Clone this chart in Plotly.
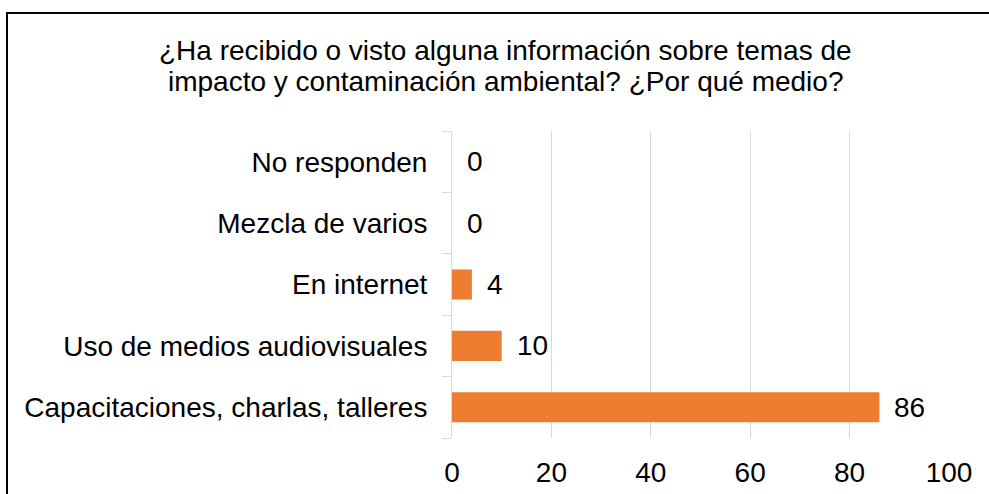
import plotly.graph_objects as go

categories = ["Capacitaciones, charlas, talleres", "Uso de medios audiovisuales",
              "En internet", "Mezcla de varios", "No responden"]
values = [86, 10, 4, 0, 0]
x_ticks = [0, 20, 40, 60, 80, 100]
title_lines = ["¿Ha recibido o visto alguna información sobre temas de",
               "impacto y contaminación ambiental? ¿Por qué medio?"]

W, H = 989, 494
L, R, T, B = 452, 40, 131, 56
pw, ph = W - L - R, H - T - B

def px_x(x):
    return (x - L) / pw

def px_y(y):
    return 1 - (y - T) / ph

FONT = "Liberation Sans, Arial, sans-serif"
FS = 28
ORANGE = "#ED7D31"
GRID = "#D9D9D9"

fig = go.Figure(go.Bar(
    x=values, y=categories, orientation="h",
    marker=dict(color=ORANGE, line=dict(width=0)),
    width=0.49, hoverinfo="skip",
))

annotations = []
for c, v in zip(categories, values):
    annotations.append(dict(x=v, y=c, xref="x", yref="y", text=str(v), showarrow=False,
                            xanchor="left", yanchor="middle", xshift=13,
                            font=dict(family=FONT, size=FS, color="#000000")))
for i, (line, yc) in enumerate(zip(title_lines, [51.0, 82.0])):
    annotations.append(dict(x=px_x(505), y=px_y(yc), xref="paper", yref="paper", text=line,
                            showarrow=False, xanchor="center", yanchor="middle",
                            font=dict(family=FONT, size=FS, color="#000000")))

fig.update_layout(
    width=W, height=H,
    margin=dict(l=L, r=R, t=T, b=B, pad=0, autoexpand=False),
    paper_bgcolor="white", plot_bgcolor="white",
    showlegend=False,
    font=dict(family=FONT, size=FS, color="#000000"),
    annotations=annotations,
    shapes=[dict(type="rect", xref="paper", yref="paper",
                 x0=px_x(7), x1=px_x(W + 20), y0=px_y(H + 20), y1=px_y(13),
                 line=dict(color="#000000", width=2), fillcolor="rgba(0,0,0,0)", layer="above")],
    xaxis=dict(range=[0, 100], tickvals=x_ticks, showgrid=True, gridcolor=GRID, gridwidth=1,
               zeroline=False, showline=False, ticks="", fixedrange=True, ticklabelstandoff=15,
               automargin=False,
               tickfont=dict(family=FONT, size=FS, color="#000000")),
    yaxis=dict(type="category", categoryorder="array", categoryarray=categories,
               showline=True, linecolor=GRID, linewidth=1, showgrid=False,
               ticks="outside", ticklen=9, tickcolor=GRID, tickwidth=1, tickson="boundaries",
               ticklabelstandoff=18, automargin=False,
               tickfont=dict(family=FONT, size=FS, color="#000000"), fixedrange=True),
)

fig.write_html("out.html", config=dict(displayModeBar=False),
               post_script="document.body.style.margin='0';document.body.style.padding='0';")
